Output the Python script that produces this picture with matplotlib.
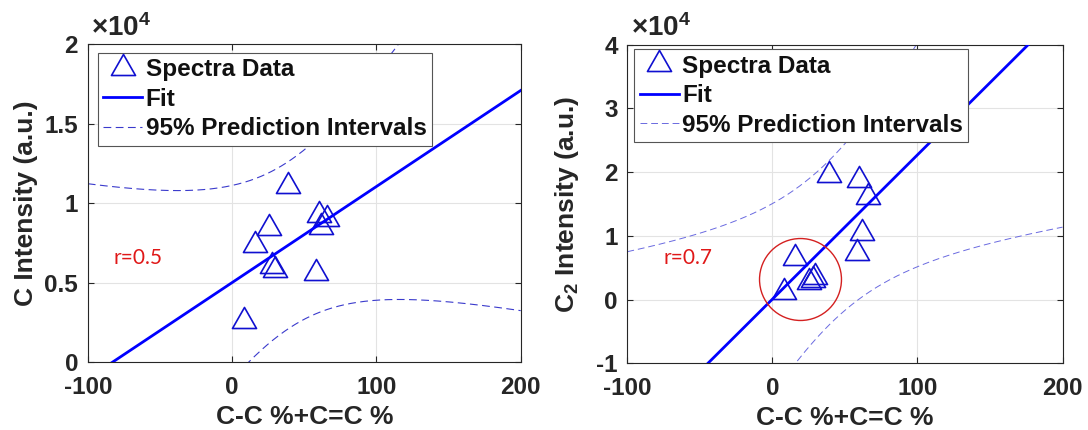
import numpy as np
import matplotlib
matplotlib.use('Agg')
import matplotlib.pyplot as plt
from matplotlib.path import Path

# ---------------- data ----------------
cc_percent = [8.0, 15.6, 25.3, 27.7, 29.6, 38.9, 58.0, 60.0, 61.8, 66.0]   # C-C %+C=C %
c_intensity = [2580, 7400, 8410, 6040, 5830, 11050, 5640, 9250, 8520, 8990]
c2_intensity = [1220, 6450, 2790, 3150, 3580, 19530, 7240, 18740, 10380, 16140]

x_ticks = [-100, 0, 100, 200]
x_tick_labels = ['-100', '0', '100', '200']
c_yticks = [0, 5000, 10000, 15000, 20000]
c_ytick_labels = ['0', '0.5', '1', '1.5', '2']
c2_yticks = [-10000, 0, 10000, 20000, 30000, 40000]
c2_ytick_labels = ['-1', '0', '1', '2', '3', '4']

r_labels = ['r=0.5', 'r=0.7']
T_95 = 2.306                      # Student t, 97.5 %, df = n-2 = 8
highlight_center = (19.2, 3200)   # red circle on the C2 panel

# ---------------- style ----------------
plt.rcParams['font.family'] = ['Liberation Sans', 'DejaVu Sans']
plt.rcParams['font.weight'] = 'bold'
plt.rcParams['mathtext.fontset'] = 'custom'
plt.rcParams['mathtext.rm'] = 'Liberation Sans'
plt.rcParams['mathtext.bf'] = 'Liberation Sans:bold'
plt.rcParams['mathtext.it'] = 'Liberation Sans:italic'

AX_COL = '#262626'
BLUE = '#0000ff'
TICK_FS = 17.5
LABEL_FS = 19

# triangle marker whose centroid is at the data point (MATLAB style)
tri = Path([(0, 14), (-12, -7), (12, -7), (0, 14)],
           [Path.MOVETO, Path.LINETO, Path.LINETO, Path.CLOSEPOLY])


def fit_and_pi(x, y, xs):
    x = np.asarray(x, float)
    y = np.asarray(y, float)
    n = len(x)
    b, a = np.polyfit(x, y, 1)
    res = y - (a + b * x)
    s = np.sqrt(np.sum(res ** 2) / (n - 2))
    xm = x.mean()
    sxx = np.sum((x - xm) ** 2)
    yhat = a + b * xs
    h = T_95 * s * np.sqrt(1 + 1.0 / n + (xs - xm) ** 2 / sxx)
    return yhat, yhat - h, yhat + h


fig = plt.figure(figsize=(10.88, 4.30), dpi=100)
ax1 = fig.add_axes([87.8 / 1088, 1 - 362.3 / 430, (520.7 - 87.8) / 1088, (362.3 - 44.1) / 430])
ax2 = fig.add_axes([627.4 / 1088, 1 - 363.3 / 430, (1062.5 - 627.4) / 1088, (363.3 - 44.7) / 430])

xs = np.linspace(-100, 200, 600)

panels = [
    (ax1, c_intensity, c_yticks, c_ytick_labels, 'C Intensity (a.u.)', r_labels[0],
     (-82, 6560), '#3a3acc', 0.8, (0.023, 0.972), -0.143),
    (ax2, c2_intensity, c2_yticks, c2_ytick_labels, r'$\mathbf{C_2}$ Intensity (a.u.)', r_labels[1],
     (-75.4, 6530), '#6a6ae0', 0.7, (0.016, 0.986), -0.138),
]

for (ax, yv, yt, ytl, ylab, rlab, rpos, pi_col, pi_lw, leg_anchor, ylab_x) in panels:
    yhat, lo, hi = fit_and_pi(cc_percent, yv, xs)
    ax.plot(cc_percent, yv, linestyle='none', marker=tri, markersize=20.2,
            markerfacecolor='none', markeredgecolor='#1010d0', markeredgewidth=1.2,
            label='Spectra Data', zorder=3)
    ax.plot(xs, yhat, color=BLUE, lw=2.0, label='Fit', zorder=4)
    l1, = ax.plot(xs, lo, color=pi_col, lw=pi_lw, label='95% Prediction Intervals', zorder=2)
    l2, = ax.plot(xs, hi, color=pi_col, lw=pi_lw, zorder=2)
    for ln in (l1, l2):
        ln.set_dashes((7, 4))

    ax.set_xlim(-100, 200)
    ax.set_ylim(yt[0], yt[-1])
    ax.set_xticks(x_ticks)
    ax.set_xticklabels(x_tick_labels)
    ax.set_yticks(yt)
    ax.set_yticklabels(ytl)
    ax.grid(True, color='#e3e3e3', lw=0.8, zorder=0)
    ax.set_axisbelow(True)
    for sp in ax.spines.values():
        sp.set_color(AX_COL)
        sp.set_linewidth(0.8)
    ax.tick_params(direction='in', length=4, width=0.8, color=AX_COL,
                   labelcolor=AX_COL, labelsize=TICK_FS, top=True, right=True)
    ax.tick_params(axis='x', pad=10)
    ax.tick_params(axis='y', pad=7)
    for lbl in ax.get_xticklabels() + ax.get_yticklabels():
        lbl.set_fontweight('bold')

    ax.set_xlabel('C-C %+C=C %', fontsize=LABEL_FS, fontweight='bold', color=AX_COL, va='center')
    ax.xaxis.set_label_coords(0.5, -0.172)
    ax.set_ylabel(ylab, fontsize=LABEL_FS, fontweight='bold', color=AX_COL, va='center')
    ax.yaxis.set_label_coords(ylab_x, 0.5)

    ax.text(0.008, 1.008, r'$\times\mathbf{10^{4}}$', transform=ax.transAxes,
            ha='left', va='bottom', fontsize=20, color=AX_COL)

    ax.text(rpos[0], rpos[1], rlab, color='#e01818', fontsize=15, fontweight='normal',
            family=['Lato', 'DejaVu Sans'], ha='left', va='center')

    leg = ax.legend(loc='upper left', bbox_to_anchor=leg_anchor, borderaxespad=0,
                    fontsize=TICK_FS, frameon=True, fancybox=False, framealpha=1,
                    edgecolor='#555555', handlelength=1.6, handletextpad=0.15,
                    borderpad=0.22, labelspacing=0.27)
    leg.get_frame().set_linewidth(0.8)
    for t in leg.get_texts():
        t.set_fontweight('bold')
        t.set_color('#111111')

# red highlight circle on the C2 panel
ax2.plot([highlight_center[0]], [highlight_center[1]], linestyle='none', marker='o',
         markersize=59, markerfacecolor='none', markeredgecolor='#d42020',
         markeredgewidth=1.0, zorder=5)

fig.savefig('out.png', dpi=100)
